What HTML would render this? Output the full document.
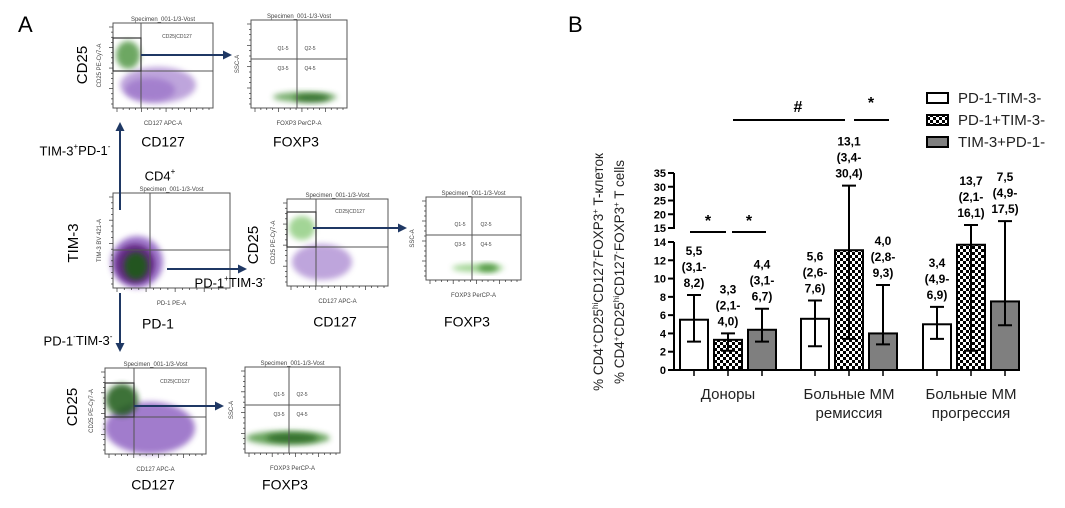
<!DOCTYPE html>
<html><head><meta charset="utf-8"><style>
html,body{margin:0;padding:0;background:#fff;}
svg{display:block;font-family:"Liberation Sans","DejaVu Sans",sans-serif;}
</style></head><body>
<svg id="fig" width="1065" height="508" viewBox="0 0 1065 508" xmlns="http://www.w3.org/2000/svg">
<defs>
<filter id="blur3" x="-50%" y="-50%" width="200%" height="200%"><feGaussianBlur stdDeviation="3"/></filter>
<pattern id="checker" width="6" height="6" patternUnits="userSpaceOnUse">
<rect width="6" height="6" fill="#fff"/><rect width="3" height="3" fill="#000"/><rect x="3" y="3" width="3" height="3" fill="#000"/>
</pattern>
<marker id="arr" markerUnits="userSpaceOnUse" markerWidth="9" markerHeight="9" refX="7" refY="4.5" orient="auto"><path d="M0,0 L9,4.5 L0,9 z" fill="#1f3864"/></marker>
</defs>
<g id="panelA">
<text x="18" y="32" font-size="22">A</text>
</g>
<g id="panelB">
<text x="568" y="32" font-size="22">B</text>
</g>
</svg>
<script>
// ---------- Chart data (panel B) ----------
const groups = ["Доноры", "Больные ММ|ремиссия", "Больные ММ|прогрессия"];
const seriesNames = ["PD-1-TIM-3-", "PD-1+TIM-3-", "TIM-3+PD-1-"];
const medians = [[5.5, 3.3, 4.4], [5.6, 13.1, 4.0], [5.0, 13.7, 7.5]];
const lows = [[3.1, 2.1, 3.1], [2.6, 3.4, 2.8], [3.4, 2.1, 4.9]];
const highs = [[8.2, 4.0, 6.7], [7.6, 30.4, 9.3], [6.9, 16.1, 17.5]];
const valueLabels = [["5,5|(3,1-|8,2)", "3,3|(2,1-|4,0)", "4,4|(3,1-|6,7)"],
  ["5,6|(2,6-|7,6)", "13,1|(3,4-|30,4)", "4,0|(2,8-|9,3)"],
  ["3,4|(4,9-|6,9)", "13,7|(2,1-|16,1)", "7,5|(4,9-|17,5)"]];
const lowerTicks = [0, 2, 4, 6, 8, 10, 12, 14];
const upperTicks = [15, 20, 25, 30, 35];

const NS = "http://www.w3.org/2000/svg";
const svg = document.getElementById("fig");
const pA = document.getElementById("panelA");
const pB = document.getElementById("panelB");
function mk(tag, attrs, parent, txt) {
  const e = document.createElementNS(NS, tag);
  for (const k in attrs) e.setAttribute(k, attrs[k]);
  if (txt !== undefined) e.textContent = txt;
  (parent || svg).appendChild(e);
  return e;
}

// ---------- Panel A: flow cytometry plots ----------
function flowPlot(name, x, y, w, h, vx, hy, clouds, xlab, ylab, gate) {
  const g = mk("g", {}, pA);
  
  
  clouds.forEach(c => {
    const el = mk("ellipse", {cx: c[0], cy: c[1], rx: c[2], ry: c[3], fill: c[4], opacity: c[5], filter: "url(#blur3)"}, g);
    
    
  });
  const box = mk("rect", {x: x, y: y, width: w, height: h, fill: "none", stroke: "#555", "stroke-width": 1}, g);
  
  
  mk("line", {x1: vx, y1: y, x2: vx, y2: y + h, stroke: "#555", "stroke-width": 1}, g);
  mk("line", {x1: x, y1: hy, x2: x + w, y2: hy, stroke: "#555", "stroke-width": 1}, g);
  if (gate) {
    const gr = mk("rect", {x: x, y: gate[0], width: vx - x, height: gate[1] - gate[0], fill: "none", stroke: "#333", "stroke-width": 1.2}, g);
    
    
  }
  const t = mk("text", {x: x + w / 2, y: y - 2, "font-size": 6, "text-anchor": "middle", fill: "#444"}, g, "Specimen_001-1/3-Vost");
  
  
  for (let i = 0; i < 16; i++) {
    mk("line", {x1: x + 4 + i * (w - 8) / 15, y1: y + h, x2: x + 4 + i * (w - 8) / 15, y2: y + h + (i % 4 === 0 ? 4 : 2), stroke: "#333", "stroke-width": 0.7}, g);
    mk("line", {x1: x, y1: y + 4 + i * (h - 8) / 15, x2: x - (i % 4 === 0 ? 4 : 2), y2: y + 4 + i * (h - 8) / 15, stroke: "#333", "stroke-width": 0.7}, g);
  }
  const xl = mk("text", {x: x + w / 2, y: y + h + 17, "font-size": 6, "text-anchor": "middle", fill: "#444"}, g, xlab);
  
  
  const yl = mk("text", {x: 0, y: 0, "font-size": 6, "text-anchor": "middle", fill: "#444", transform: `translate(${x - 12},${y + h / 2}) rotate(-90)`}, g, ylab);
  
  
}
const purple = "#8a5cc0", dpurple = "#5a1f78", green = "#3c8a2e", lgreen = "#8ccb7c", dgreen = "#1f5a14";
flowPlot("cd25-cd127-plot-tim3", 113, 23, 100, 85, 141, 71,
  [[158, 85, 38, 18, purple, 0.55], [150, 90, 25, 12, purple, 0.5], [128, 55, 12, 14, green, 0.75]],
  "CD127 APC-A", "CD25 PE-Cy7-A", [38, 71]);
flowPlot("foxp3-plot-tim3", 251, 20, 96, 88, 297, 59,
  [[305, 97, 32, 5, green, 0.7], [312, 98, 18, 4, dgreen, 0.7]],
  "FOXP3 PerCP-A", "SSC-A", null);
flowPlot("tim3-pd1-plot", 113, 193, 117, 95, 150, 250,
  [[137, 262, 26, 26, purple, 0.8], [135, 264, 20, 20, dpurple, 0.85], [136, 266, 12, 14, dgreen, 0.9]],
  "PD-1 PE-A", "TIM-3 BV 421-A", null);
flowPlot("cd25-cd127-plot-pd1", 287, 199, 101, 87, 316, 247,
  [[322, 262, 30, 18, purple, 0.55], [302, 228, 13, 12, lgreen, 0.8]],
  "CD127 APC-A", "CD25 PE-Cy7-A", [212, 247]);
flowPlot("foxp3-plot-pd1", 426, 197, 95, 83, 472, 235,
  [[478, 268, 26, 4, lgreen, 0.8], [488, 268, 10, 4, green, 0.8]],
  "FOXP3 PerCP-A", "SSC-A", null);
flowPlot("cd25-cd127-plot-neg", 105, 368, 101, 86, 134, 417,
  [[150, 428, 45, 26, purple, 0.8], [122, 400, 16, 16, dgreen, 0.85]],
  "CD127 APC-A", "CD25 PE-Cy7-A", [383, 417]);
flowPlot("foxp3-plot-neg", 245, 367, 95, 86, 289, 405,
  [[288, 438, 42, 7, green, 0.75], [292, 438, 26, 5, dgreen, 0.7]],
  "FOXP3 PerCP-A", "SSC-A", null);

// quadrant labels
[["Q1-5",283,50],["Q2-5",310,50],["Q3-5",283,70],["Q4-5",310,70],
 ["Q1-5",460,226],["Q2-5",486,226],["Q3-5",460,246],["Q4-5",486,246],
 ["Q1-5",279,396],["Q2-5",302,396],["Q3-5",279,416],["Q4-5",302,416],
 ["CD25|CD127",177,38],["CD25|CD127",350,213],["CD25|CD127",175,383]].forEach(q => {
  const t = mk("text", {x: q[1], y: q[2], "font-size": 5, "text-anchor": "middle", fill: "#444"}, pA, q[0]);
  
  
});

// arrows
[[141,55,230,55],[120,210,120,124],[167,269,245,269],[120,293,120,350],[313,228,405,228],[134,406,222,406]].forEach(a => {
  const l = mk("line", {x1: a[0], y1: a[1], x2: a[2], y2: a[3], stroke: "#1f3864", "stroke-width": 2, "marker-end": "url(#arr)"}, pA);
  
  
});

// big labels
function bigLabel(txt, x, y, name, rot, size) {
  const t = mk("text", {x: x, y: y, "font-size": size || 14, "text-anchor": "middle", "dominant-baseline": "middle"}, pA);
  if (rot) t.setAttribute("transform", `rotate(-90 ${x} ${y})`);
  t.innerHTML = txt;
  
  
}
bigLabel("CD25", 83, 65, "cd25-label-top", true, 15);
bigLabel("CD127", 163, 143, "cd127-label-top");
bigLabel("FOXP3", 296, 143, "foxp3-label-top");
bigLabel('TIM-3<tspan font-size="8" dy="-5">+</tspan><tspan dy="5">PD-1</tspan><tspan font-size="8" dy="-5">-</tspan>', 75, 152, "tim3-pos-label", false, 13);
bigLabel('CD4<tspan font-size="8" dy="-5">+</tspan>', 160, 177, "cd4-label", false, 13);
bigLabel("TIM-3", 74, 243, "tim3-axis-label", true, 15);
bigLabel("PD-1", 158, 325, "pd1-axis-label");
bigLabel('PD-1<tspan font-size="8" dy="-5">+</tspan><tspan dy="5">TIM-3</tspan><tspan font-size="8" dy="-5">-</tspan>', 230, 284, "pd1-pos-label", false, 13);
bigLabel('PD-1<tspan font-size="8" dy="-5">-</tspan><tspan dy="5">TIM-3</tspan><tspan font-size="8" dy="-5">-</tspan>', 78, 342, "double-neg-label", false, 13);
bigLabel("CD25", 254, 245, "cd25-label-mid", true, 15);
bigLabel("CD127", 335, 323, "cd127-label-mid");
bigLabel("FOXP3", 467, 323, "foxp3-label-mid");
bigLabel("CD25", 73, 407, "cd25-label-bottom", true, 15);
bigLabel("CD127", 153, 486, "cd127-label-bottom");
bigLabel("FOXP3", 285, 486, "foxp3-label-bottom");

// ---------- Panel B: bar chart ----------
const AX = 674, Y0 = 370, Y14 = 242, Y15 = 228, Y35 = 173;
function yScale(v) {
  if (v <= 14) return Y0 - v * (Y0 - Y14) / 14;
  if (v >= 15) return Y15 - (v - 15) * (Y15 - Y35) / 20;
  return Y14 - (v - 14) * (Y14 - Y15);
}
const groupCenters = [728, 849, 971];
const barOffset = 34, barW = 28;
function xBar(gi, si) { return groupCenters[gi] + (si - 1) * barOffset; }
const fills = ["#fff", "url(#checker)", "#7f7f7f"];

[[Y0, Y14], [Y15, Y35]].forEach(s => {
  const l = mk("line", {x1: AX, y1: s[0] + 1, x2: AX, y2: s[1], stroke: "#000", "stroke-width": 2}, pB);
  
  
});
lowerTicks.concat(upperTicks).forEach(t => {
  const y = yScale(t);
  mk("line", {x1: AX - 6, y1: y, x2: AX, y2: y, stroke: "#000", "stroke-width": 2}, pB);
  const tx = mk("text", {x: AX - 8, y: y + 4, "font-size": 11, "font-weight": "bold", "text-anchor": "end"}, pB, String(t));
  
  
});
const xa = mk("line", {x1: AX, y1: Y0, x2: 1020, y2: Y0, stroke: "#000", "stroke-width": 2}, pB);



groups.forEach((gname, gi) => {
  for (let si = 0; si < 3; si++) {
    const cx = xBar(gi, si);
    const yt = yScale(medians[gi][si]);
    const b = mk("rect", {x: cx - barW / 2, y: yt, width: barW, height: Y0 - yt, fill: fills[si], stroke: "#000", "stroke-width": 2}, pB);
    
    
    mk("line", {x1: cx, y1: Y0, x2: cx, y2: Y0 + 6, stroke: "#000", "stroke-width": 1.5}, pB);
    const yl = yScale(lows[gi][si]), yh = yScale(highs[gi][si]);
    const eb = mk("path", {d: `M${cx},${yl} V${yh} M${cx - 7},${yl} H${cx + 7} M${cx - 7},${yh} H${cx + 7}`, stroke: "#000", "stroke-width": 2, fill: "none"}, pB);
    
    
    const lines = valueLabels[gi][si].split("|");
    lines.forEach((ln, li) => {
      const t = mk("text", {x: cx, y: yh - 8 - (lines.length - 1 - li) * 16, "font-size": 12, "font-weight": "bold", "text-anchor": "middle"}, pB, ln);
      
      
    });
  }
  const parts = gname.split("|");
  parts.forEach((p, pi) => {
    const t = mk("text", {x: groupCenters[gi], y: 399 + pi * 19, "font-size": 15, "text-anchor": "middle", fill: "#222"}, pB, p);
    
    
  });
});

[[690, 726, 232, "*", 708, 226], [732, 766, 232, "*", 749, 226], [733, 845, 120, "#", 798, 112], [854, 889, 120, "*", 871, 108]].forEach(s => {
  const l = mk("line", {x1: s[0], y1: s[2], x2: s[1], y2: s[2], stroke: "#000", "stroke-width": 2}, pB);
  
  
  const t = mk("text", {x: s[4], y: s[5], "font-size": 16, "font-weight": "bold", "text-anchor": "middle"}, pB, s[3]);
  
  
});

seriesNames.forEach((n, i) => {
  const y = 98 + i * 22;
  const r = mk("rect", {x: 927, y: y - 5, width: 21, height: 10, fill: fills[i], stroke: "#000", "stroke-width": 2}, pB);
  
  
  const t = mk("text", {x: 958, y: y + 5, "font-size": 15, fill: "#222"}, pB, n);
  
  
});

const yt1 = mk("text", {x: 0, y: 0, "font-size": 13.5, "text-anchor": "middle", transform: "translate(603,272) rotate(-90)", fill: "#222"}, pB);
yt1.innerHTML = '% CD4<tspan font-size="8" dy="-5">+</tspan><tspan dy="5">CD25</tspan><tspan font-size="8" dy="-5">hi</tspan><tspan dy="5">CD127</tspan><tspan font-size="8" dy="-5">-</tspan><tspan dy="5">FOXP3</tspan><tspan font-size="8" dy="-5">+</tspan><tspan dy="5"> T-клеток</tspan>';


const yt2 = mk("text", {x: 0, y: 0, "font-size": 13.5, "text-anchor": "middle", transform: "translate(624,272) rotate(-90)", fill: "#222"}, pB);
yt2.innerHTML = '% CD4<tspan font-size="8" dy="-5">+</tspan><tspan dy="5">CD25</tspan><tspan font-size="8" dy="-5">hi</tspan><tspan dy="5">CD127</tspan><tspan font-size="8" dy="-5">-</tspan><tspan dy="5">FOXP3</tspan><tspan font-size="8" dy="-5">+</tspan><tspan dy="5"> T cells</tspan>';


</script>
</body></html>
